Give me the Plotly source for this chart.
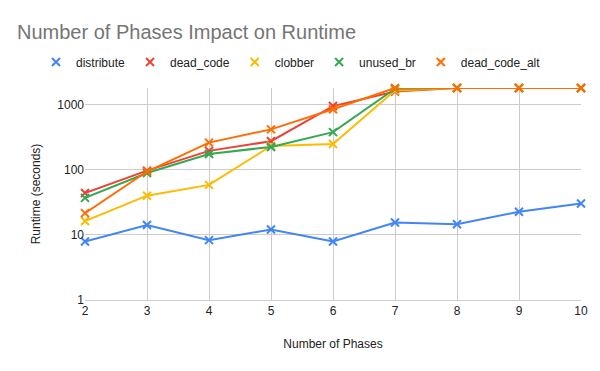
import plotly.graph_objects as go

phases = [2, 3, 4, 5, 6, 7, 8, 9, 10]
distribute = [7.9, 14.2, 8.3, 12.1, 7.9, 15.5, 14.6, 22.7, 30.3]
dead_code = [44, 97, 195, 274, 950, 1590, 1800, 1800, 1800]
clobber = [16.3, 40, 58.5, 232, 249, 1650, 1800, 1800, 1800]
unused_br = [37, 89, 175, 224, 378, 1750, 1800, 1800, 1800]
dead_code_alt = [21.6, 94, 261, 417, 848, 1800, 1800, 1800, 1800]
y_ticks = [1, 10, 100, 1000]

series = [
    ("distribute", distribute, "#4285F4"),
    ("dead_code", dead_code, "#EA4335"),
    ("clobber", clobber, "#FBBC04"),
    ("unused_br", unused_br, "#34A853"),
    ("dead_code_alt", dead_code_alt, "#FF6D01"),
]

FONT = "Arial, Liberation Sans, sans-serif"

fig = go.Figure()
for name, vals, color in series:
    fig.add_trace(go.Scatter(
        x=phases, y=vals, name=name, mode="lines+markers", showlegend=False,
        line=dict(color=color, width=2),
        marker=dict(symbol="x-thin", size=8, line=dict(color=color, width=2)),
        cliponaxis=False,
    ))
# marker-only legend entries
for name, vals, color in series:
    fig.add_trace(go.Scatter(
        x=[None], y=[None], name=name, mode="markers", showlegend=True,
        marker=dict(symbol="x-thin", size=8, line=dict(color=color, width=2)),
    ))

# page body has an 8px margin; figure is sized to fill the 600x371 window
W, H = 592, 363
top, bottom, left, right = 80, 71, 77, 19
plot_w = W - left - right
plot_h = H - top - bottom

fig.update_layout(
    width=W, height=H,
    paper_bgcolor="white", plot_bgcolor="white",
    margin=dict(l=left, r=right, t=top, b=bottom, autoexpand=False),
    font=dict(family=FONT, size=12, color="#222222"),
    title=dict(text="Number of Phases Impact on Runtime", x=9/W, xanchor="left",
               y=1 - 24/H, yanchor="middle",
               font=dict(size=20, color="#757575", family=FONT)),
    legend=dict(orientation="h", x=(28 - left)/plot_w, xanchor="left",
                y=1 + (top - 54)/plot_h, yanchor="middle",
                font=dict(size=12, color="#222222"), traceorder="normal",
                itemwidth=30),
)
fig.update_xaxes(
    range=[2, 10], tickvals=phases, showgrid=True, gridcolor="#cccccc", gridwidth=1,
    zeroline=False, showline=True, linecolor="#cccccc", ticks="",
    title=dict(text="Number of Phases", font=dict(size=12, color="#222222"), standoff=22),
    tickfont=dict(size=12, color="#222222"),
)
fig.update_yaxes(
    type="log", range=[0, 3.2553], tickvals=y_ticks,
    ticktext=[str(v) for v in y_ticks],
    showgrid=True, gridcolor="#cccccc", gridwidth=1, zeroline=False,
    showline=False, ticks="",
    title=dict(text="Runtime (seconds)", font=dict(size=12, color="#222222"), standoff=14),
    tickfont=dict(size=12, color="#222222"),
)

fig.write_html("out.html")
